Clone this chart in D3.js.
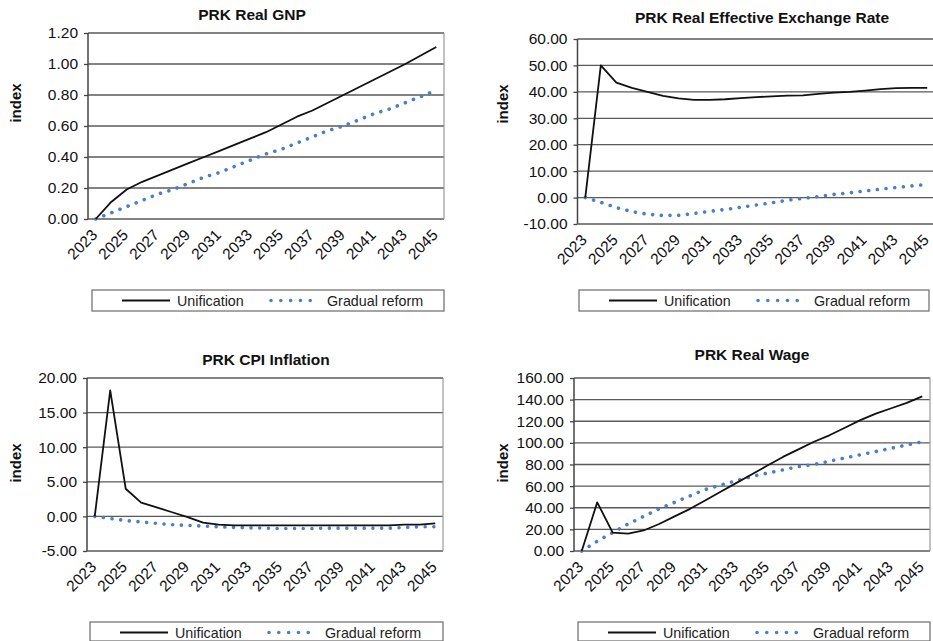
<!DOCTYPE html>
<html>
<head>
<meta charset="utf-8">
<script src="https://cdn.jsdelivr.net/npm/d3@7"></script>
<style>
  body { margin: 0; background: #fff; }
  svg { display: block; font-family: "Liberation Sans", Arial, sans-serif; }
</style>
</head>
<body>
<svg id="chart" width="933" height="641"></svg>
<script>
// Years on the horizontal axis and the subset that gets a label
const years = [2023, 2024, 2025, 2026, 2027, 2028, 2029, 2030, 2031, 2032, 2033, 2034,
               2035, 2036, 2037, 2038, 2039, 2040, 2041, 2042, 2043, 2044, 2045];
const yearLabels = [2023, 2025, 2027, 2029, 2031, 2033, 2035, 2037, 2039, 2041, 2043, 2045];

const seriesNames = ["Unification", "Gradual reform"];

// PRK Real GNP
const gnpUnification = [0.00, 0.11, 0.19, 0.24, 0.28, 0.32, 0.36, 0.40, 0.44, 0.48, 0.52, 0.56,
                        0.61, 0.66, 0.70, 0.75, 0.80, 0.85, 0.90, 0.95, 1.00, 1.055, 1.11];
const gnpGradual     = [0.00, 0.04, 0.08, 0.12, 0.16, 0.19, 0.23, 0.27, 0.30, 0.34, 0.38, 0.42,
                        0.45, 0.49, 0.53, 0.57, 0.60, 0.64, 0.68, 0.71, 0.75, 0.79, 0.83];
const gnpTicks = [0, 0.2, 0.4, 0.6, 0.8, 1.0, 1.2];

// PRK Real Effective Exchange Rate
const reerUnification = [0.0, 50.0, 43.5, 41.5, 40.0, 38.5, 37.5, 37.0, 37.0, 37.2, 37.6, 38.0,
                         38.3, 38.6, 38.7, 39.2, 39.7, 40.0, 40.5, 41.0, 41.4, 41.5, 41.5];
const reerGradual     = [0.0, -1.8, -3.8, -5.3, -6.3, -6.8, -6.7, -6.0, -5.2, -4.5, -3.7, -2.8,
                         -2.0, -1.0, -0.3, 0.4, 1.2, 1.8, 2.5, 3.2, 3.8, 4.4, 5.0];
const reerTicks = [-10, 0, 10, 20, 30, 40, 50, 60];

// PRK CPI Inflation
const cpiUnification = [0.0, 18.2, 4.0, 2.0, 1.3, 0.6, -0.1, -0.9, -1.2, -1.3, -1.3, -1.3,
                        -1.3, -1.3, -1.3, -1.3, -1.3, -1.3, -1.3, -1.3, -1.2, -1.2, -1.0];
const cpiGradual     = [0.0, -0.3, -0.6, -0.8, -1.0, -1.2, -1.3, -1.4, -1.5, -1.6, -1.65, -1.7,
                        -1.75, -1.75, -1.75, -1.7, -1.7, -1.7, -1.7, -1.7, -1.6, -1.5, -1.5];
const cpiTicks = [-5, 0, 5, 10, 15, 20];

// PRK Real Wage
const wageUnification = [0, 45, 17, 16, 19, 25, 32, 39, 47, 55, 63, 71,
                         79, 87, 94, 101, 107, 114, 121, 127, 132, 137, 143];
const wageGradual     = [0, 9, 17, 25, 32, 39, 45, 51, 57, 61, 65, 69,
                         72, 75, 78, 80, 83, 86, 89, 92, 95, 98, 101];
const wageTicks = [0, 20, 40, 60, 80, 100, 120, 140, 160];

const panels = [
  { title: "PRK Real GNP", uni: gnpUnification, grad: gnpGradual, ticks: gnpTicks,
    plot: { x0: 88, x1: 444, y0: 33, y1: 219 }, rightBorder: true,
    titlePos: [252, 20], labelPos: [16, 103],
    legend: { x0: 92, x1: 444, y0: 290, y1: 311 } },
  { title: "PRK Real Effective Exchange Rate", uni: reerUnification, grad: reerGradual, ticks: reerTicks,
    plot: { x0: 577.5, x1: 935, y0: 39, y1: 224 }, rightBorder: false,
    titlePos: [762, 23], labelPos: [503, 104],
    legend: { x0: 579, x1: 929, y0: 290, y1: 311 } },
  { title: "PRK CPI Inflation", uni: cpiUnification, grad: cpiGradual, ticks: cpiTicks,
    plot: { x0: 87, x1: 443, y0: 378, y1: 551 }, rightBorder: true,
    titlePos: [266, 365], labelPos: [16, 463],
    legend: { x0: 90, x1: 443, y0: 622, y1: 641 } },
  { title: "PRK Real Wage", uni: wageUnification, grad: wageGradual, ticks: wageTicks,
    plot: { x0: 574, x1: 930, y0: 378, y1: 551 }, rightBorder: true,
    titlePos: [752, 360], labelPos: [503, 463],
    legend: { x0: 578, x1: 930, y0: 622, y1: 641 } }
];

const svg = d3.select("#chart");
const gridColor = "#5a5a5a";
const blue = "#4a7fc6";
const dotDash = "0.01 8.7";
const tickFont = 15.5;
const legendFont = 14.3;

function drawPanel(p) {
  const g = svg.append("g");
  const { x0, x1, y0, y1 } = p.plot;

  const x = d3.scalePoint().domain(years).range([x0, x1]).padding(0.5);
  const y = d3.scaleLinear().domain(d3.extent(p.ticks)).range([y1, y0]);

  // horizontal gridlines
  g.append("g").selectAll("line").data(p.ticks).join("line")
    .attr("x1", x0).attr("x2", Math.min(x1, 933))
    .attr("y1", d => y(d)).attr("y2", d => y(d))
    .attr("stroke", gridColor).attr("stroke-width", 1.3);

  if (p.rightBorder) {
    g.append("line").attr("x1", x1).attr("x2", x1).attr("y1", y0).attr("y2", y1)
      .attr("stroke", "#9a9a9a").attr("stroke-width", 1.2);
  }

  // vertical axis with value labels
  const yAxis = d3.axisLeft(y).tickValues(p.ticks).tickFormat(d => d.toFixed(2))
    .tickSize(4).tickPadding(6);
  const ya = g.append("g").attr("transform", `translate(${x0},0)`).call(yAxis);
  ya.select(".domain").remove();
  ya.selectAll(".tick line").attr("stroke", "#444").attr("stroke-width", 1.3);
  ya.selectAll(".tick text").attr("font-size", tickFont).attr("fill", "#111")
    .attr("font-family", "Liberation Sans, Arial, sans-serif");
  g.append("line").attr("x1", x0).attr("x2", x0).attr("y1", y0).attr("y2", y1)
    .attr("stroke", "#444").attr("stroke-width", 1.5);

  // horizontal axis: rotated year labels
  const xAxis = d3.axisBottom(x).tickValues(yearLabels).tickSize(0).tickPadding(0);
  const xa = g.append("g").attr("transform", `translate(0,${y1})`).call(xAxis);
  xa.select(".domain").remove();
  xa.selectAll(".tick text")
    .attr("font-size", tickFont).attr("fill", "#111")
    .attr("font-family", "Liberation Sans, Arial, sans-serif")
    .attr("text-anchor", "end").attr("dy", null).attr("y", null)
    .attr("transform", "translate(2,17) rotate(-45)");

  const line = d3.line().x((d, i) => x(years[i])).y(d => y(d));

  g.append("path").datum(p.grad).attr("d", line)
    .attr("fill", "none").attr("stroke", blue).attr("stroke-width", 3.6)
    .attr("stroke-linecap", "round").attr("stroke-dasharray", dotDash);

  g.append("path").datum(p.uni).attr("d", line)
    .attr("fill", "none").attr("stroke", "#111").attr("stroke-width", 1.8)
    .attr("stroke-linejoin", "round");

  // title
  g.append("text").attr("x", p.titlePos[0]).attr("y", p.titlePos[1])
    .attr("text-anchor", "middle").attr("font-size", 15.5).attr("font-weight", "bold")
    .attr("fill", "#111").text(p.title);

  // vertical axis title
  g.append("text")
    .attr("transform", `translate(${p.labelPos[0] + 5},${p.labelPos[1]}) rotate(-90)`)
    .attr("text-anchor", "middle").attr("font-size", 15).attr("font-weight", "bold")
    .attr("fill", "#111").text("index");

  // legend
  const L = p.legend;
  const lg = g.append("g").attr("transform", `translate(${L.x0},${L.y0})`);
  lg.append("rect").attr("x", 0).attr("y", 0)
    .attr("width", L.x1 - L.x0).attr("height", L.y1 - L.y0)
    .attr("fill", "#fff").attr("stroke", "#6a6a6a").attr("stroke-width", 1.2);
  const midY = 10.5;
  lg.append("line").attr("x1", 30).attr("x2", 78).attr("y1", midY).attr("y2", midY)
    .attr("stroke", "#111").attr("stroke-width", 1.8);
  lg.append("text").attr("x", 85).attr("y", 16).attr("font-size", legendFont)
    .attr("fill", "#222").text(seriesNames[0]);
  lg.append("line").attr("x1", 179).attr("x2", 228).attr("y1", midY).attr("y2", midY)
    .attr("stroke", blue).attr("stroke-width", 3.6).attr("stroke-linecap", "round")
    .attr("stroke-dasharray", "0.01 9.8");
  lg.append("text").attr("x", 235).attr("y", 16).attr("font-size", legendFont)
    .attr("fill", "#222").text(seriesNames[1]);
}

panels.forEach(drawPanel);
</script>
</body>
</html>
